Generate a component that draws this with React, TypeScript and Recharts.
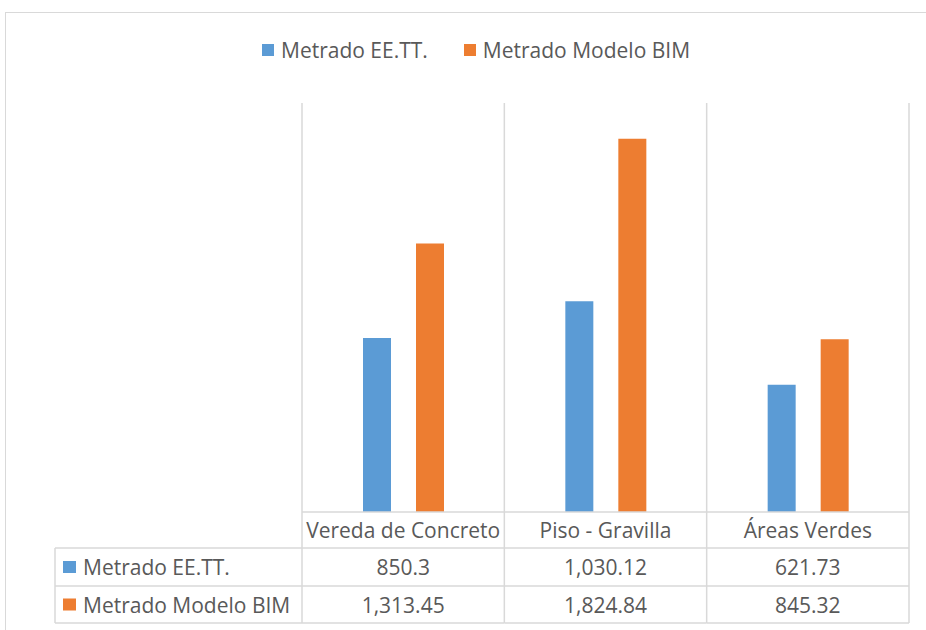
import React from 'react';
import { BarChart, Bar, XAxis, YAxis, Legend } from 'recharts';

const categories = ['Vereda de Concreto', 'Piso - Gravilla', 'Áreas Verdes'];
const metradoEETT = [850.3, 1030.12, 621.73];
const metradoBIM = [1313.45, 1824.84, 845.32];
const seriesNames = ['Metrado EE.TT.', 'Metrado Modelo BIM'];
const seriesKeys = ['eett', 'bim'];
const seriesValues = [metradoEETT, metradoBIM];
const yDomain = [0, 2000];

const data = categories.map((c, i) => ({ category: c, eett: metradoEETT[i], bim: metradoBIM[i] }));

const W = 926;
const H = 630;
const PLOT_TOP = 103;
const PLOT_BOTTOM = 512;
const PLOT_LEFT = 302;
const PLOT_RIGHT = 909;
const ROWS = [548, 586, 623];
const TABLE_LEFT = 55;
const GRID = '#d9d9d9';
const TEXT = '#595959';
const FONT = '"Open Sans", sans-serif';
const FS = 21;
const COLORS = ['#5B9BD5', '#ED7D31'];
const BAND = (PLOT_RIGHT - PLOT_LEFT) / categories.length;

const fmt = (v: number) => v.toLocaleString('en-US', { maximumFractionDigits: 2 });

function TableTick(props: any) {
  const { x, payload, index } = props;
  const half = payload && payload.offset > 0 ? payload.offset : BAND / 2;
  const l = x - half;
  const r = x + half;
  const rowMid = (a: number, b: number) => (a + b) / 2;
  return (
    <g>
      <line x1={r} y1={PLOT_TOP} x2={r} y2={ROWS[2]} stroke={GRID} strokeWidth={1.5} />
      {index === 0 && <line x1={l} y1={PLOT_TOP} x2={l} y2={ROWS[2]} stroke={GRID} strokeWidth={1.5} />}
      <line x1={l} y1={PLOT_BOTTOM} x2={r} y2={PLOT_BOTTOM} stroke={GRID} strokeWidth={1.5} />
      {ROWS.map((ry) => (
        <line key={ry} x1={l} y1={ry} x2={r} y2={ry} stroke={GRID} strokeWidth={1.5} />
      ))}
      <text x={x} y={rowMid(PLOT_BOTTOM, ROWS[0])} textAnchor="middle" dominantBaseline="central" fill={TEXT} fontSize={FS} fontFamily={FONT}>
        {payload.value}
      </text>
      {seriesValues.map((vals, si) => (
        <text key={si} x={x} y={rowMid(ROWS[si], ROWS[si + 1])} textAnchor="middle" dominantBaseline="central" fill={TEXT} fontSize={FS} fontFamily={FONT}>
          {fmt(vals[index])}
        </text>
      ))}
      {index === 0 && (
        <g>
          <line x1={TABLE_LEFT} y1={ROWS[0]} x2={TABLE_LEFT} y2={ROWS[2]} stroke={GRID} strokeWidth={1.5} />
          {ROWS.map((ry) => (
            <line key={ry} x1={TABLE_LEFT} y1={ry} x2={l} y2={ry} stroke={GRID} strokeWidth={1.5} />
          ))}
          {seriesNames.map((n, si) => {
            const cy = rowMid(ROWS[si], ROWS[si + 1]);
            return (
              <g key={n}>
                <rect x={63} y={cy - 6} width={13} height={12} fill={COLORS[si]} />
                <text x={83} y={cy} dominantBaseline="central" fill={TEXT} fontSize={FS} fontFamily={FONT}>
                  {n}
                </text>
              </g>
            );
          })}
        </g>
      )}
    </g>
  );
}

const LegendContent = () => (
  <div
    style={{
      display: 'flex',
      justifyContent: 'flex-start',
      paddingLeft: 262,
      fontFamily: FONT,
      fontSize: FS,
      color: TEXT,
      lineHeight: '24px',
    }}
  >
    {seriesNames.map((n, i) => (
      <span key={n} style={{ display: 'flex', alignItems: 'center', marginRight: i === 0 ? 36 : 0 }}>
        <span style={{ display: 'inline-block', width: 12, height: 12, background: COLORS[i], marginRight: 7 }} />
        {n}
      </span>
    ))}
  </div>
);

export default function App() {
  return (
    <div style={{ position: 'absolute', left: 0, top: 0, width: W, height: H, background: '#fff' }}>
      <div
        style={{
          position: 'absolute',
          left: 5,
          top: 12,
          right: 0,
          bottom: 0,
          borderTop: '1.5px solid #d9d9d9',
          borderLeft: '1.5px solid #d9d9d9',
        }}
      />
      <div style={{ position: 'absolute', left: 0, top: 0 }}>
        <BarChart
          width={W}
          height={H}
          data={data}
          margin={{ top: PLOT_TOP, left: PLOT_LEFT, right: W - PLOT_RIGHT, bottom: 0 }}
          barGap={25}
        >
          <XAxis
            dataKey="category"
            axisLine={false}
            tickLine={false}
            interval={0}
            height={H - PLOT_BOTTOM}
            tick={<TableTick />}
          />
          <YAxis hide domain={yDomain} />
          <Legend
            verticalAlign="middle"
            align="center"
            content={<LegendContent />}
            wrapperStyle={{ top: 38, left: 0, width: W }}
          />
          {seriesKeys.map((k, i) => (
            <Bar key={k} dataKey={k} name={seriesNames[i]} fill={COLORS[i]} barSize={28} isAnimationActive={false} />
          ))}
        </BarChart>
      </div>
    </div>
  );
}
